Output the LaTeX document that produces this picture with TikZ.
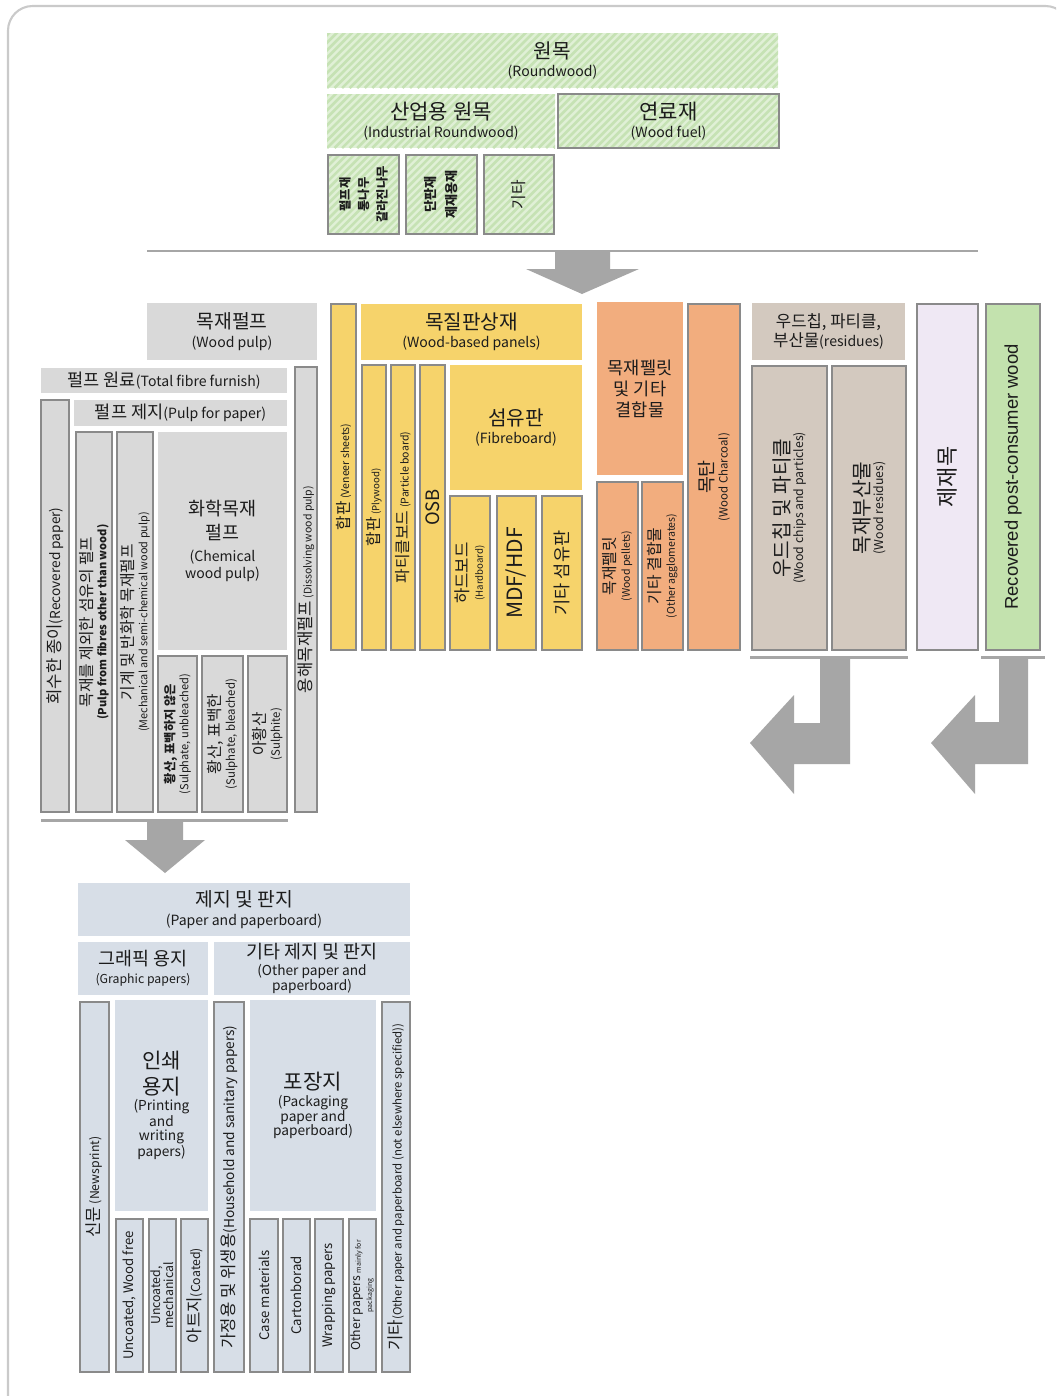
\documentclass[tikz,border=0pt]{standalone}
\usepackage{fontspec}
\setmainfont{Noto Sans CJK KR}
\newfontfamily\arialfont{Liberation Sans}
\usetikzlibrary{fit}
\definecolor{hatchBg}{HTML}{E0F0D6}
\definecolor{hatchLn}{HTML}{C6E2B4}
\definecolor{edgeGray}{HTML}{8A8A8A}
\definecolor{pulpGray}{HTML}{D9D9D9}
\definecolor{panelYel}{HTML}{F6D36B}
\definecolor{pelletOr}{HTML}{F2AD7E}
\definecolor{residTp}{HTML}{D3C9BF}
\definecolor{sawnLav}{HTML}{EFE8F4}
\definecolor{recovGr}{HTML}{C3E2AE}
\definecolor{paperBl}{HTML}{D7DEE7}
\definecolor{arrowGr}{HTML}{A6A6A6}
\definecolor{cardLn}{HTML}{CACACA}
\definecolor{inkTxt}{HTML}{1C1C1C}
\newcommand\fs[2]{\fontsize{#1}{#2}\selectfont}
\tikzset{
  cellbase/.style={inner sep=0pt,outer sep=0pt},
  edged/.style={draw=edgeGray,line width=0.6pt},
  hatch/.style={fill=hatchBg,path picture={
      \foreach \k in {-12,...,62}
        \draw[hatchLn,line width=1.5pt]
          ([xshift=\k*4.3pt]path picture bounding box.south west) -- ++(60pt,60pt);}},
  grn/.style={cellbase,hatch},
  grnb/.style={grn,edged},
  pulp/.style={cellbase,fill=pulpGray},
  pulpb/.style={pulp,edged},
  panel/.style={cellbase,fill=panelYel},
  panelb/.style={panel,edged},
  pellet/.style={cellbase,fill=pelletOr},
  pelletb/.style={pellet,edged},
  resid/.style={cellbase,fill=residTp},
  residb/.style={resid,edged},
  sawn/.style={cellbase,fill=sawnLav,edged},
  recov/.style={cellbase,fill=recovGr,edged},
  paper/.style={cellbase,fill=paperBl},
  paperb/.style={paper,edged},
  tlbl/.style={align=center,inner sep=0pt,text=inkTxt,font=\fs{8}{9.5}},
  vlbl/.style={tlbl,rotate=90,font=\fs{7}{8}},
  rule/.style={draw=arrowGr,line width=1.7pt},
  blockarr/.style={fill=arrowGr},
}
% box between two corners, text level
\newcommand\hcell[6][]{\node[#2,fit={(#4) (#5)}] (#3) {};
  \node[tlbl,#1] (#3-t) at (#3.center) {#6};}
% box between two corners, text turned upwards
\newcommand\vcell[6][]{\node[#2,fit={(#4) (#5)}] (#3) {};
  \node[vlbl,#1] (#3-t) at (#3.center) {#6};}

\begin{document}
\begin{tikzpicture}[x=0.02cm,y=-0.02cm]
  \useasboundingbox (0,0) rectangle (1056,1396);
  \begin{scope}
    \clip (0,0) rectangle (1056,1396);
    \draw[cardLn,line width=1.2pt,fill=white,rounded corners=14pt] (8,6) rectangle (1070,1420);
  \end{scope}

  % roundwood
  \hcell{grn}{rw}{327,33}{778,88}{{\fs{11.5}{14}원목}\\[1pt](Roundwood)}
  \hcell{grn}{ind}{327,94}{555,148}{{\fs{12}{14}산업용 원목}\\[1pt](Industrial Roundwood)}
  \hcell{grnb}{fuel}{558,94}{779,148}{{\fs{12}{14}연료재}\\[1pt](Wood fuel)}
  \vcell[font=\bfseries\fs{7}{10.5}]{grnb}{pw}{328,155}{399,234}{펄프재\\통나무\\갈라진나무}
  \vcell[font=\bfseries\fs{7.5}{12}]{grnb}{vl}{406,155}{477,234}{단판재\\제재용재}
  \vcell[font=\fs{9}{11}]{grnb}{oth}{484,155}{554,234}{기타}

  \draw[rule] (147,251) -- (978,251);
  \fill[blockarr] (555,252) -- (610,252) -- (610,269) -- (639,269) -- (582,294)
    -- (526,269) -- (555,269) -- cycle;

  % wood pulp
  \hcell{pulp}{wp}{147,303}{317,360}{{\fs{11}{13}목재펄프}\\[1pt](Wood pulp)}
  \hcell{pulp}{tff}{41,368}{287,393}{{\fs{10}{12}펄프 원료}(Total fibre furnish)}
  \hcell{pulp}{pfp}{74,400}{287,426}{{\fs{10}{12}펄프 제지}(Pulp for paper)}
  \vcell{pulpb}{rcp}{41,400}{69,812}{{\fs{9.5}{11}회수한 종이}{\fs{7.8}{9}(Recovered paper)}}
  \vcell{pulpb}{nonw}{76,432}{112,812}{{\fs{9}{10}목재를 제외한 섬유의 펄프}\\{\bfseries\fs{6.3}{7}(Pulp from fibres other than wood)}}
  \vcell{pulpb}{mech}{117,432}{153,812}{{\fs{9}{10}기계 및 반화학 목재펄프}\\{\fs{6.2}{7}(Mechanical and semi-chemical wood pulp)}}
  \hcell{pulp}{chem}{158,432}{287,650}{{\fs{10.5}{12}화학목재}\\[3pt]{\fs{10.5}{12}펄프}\\[3pt](Chemical\\wood pulp)}
  \vcell{pulpb}{sun}{158,656}{197,812}{{\bfseries\fs{7}{8}황산, 표백하지 않은}\\{\fs{6.3}{7}(Sulphate, unbleached)}}
  \vcell{pulpb}{sbl}{202,656}{243,812}{{\fs{9}{10}황산, 표백한}\\{\fs{6.5}{7.5}(Sulphate, bleached)}}
  \vcell{pulpb}{sul}{248,656}{287,812}{{\fs{9}{10}아황산}\\{\fs{6.5}{7.5}(Sulphite)}}
  \vcell{pulpb}{dis}{295,367}{317,812}{{\fs{9.5}{11}용해목재펄프} {\fs{6}{7}(Dissolving wood pulp)}}

  \draw[rule] (41,820) -- (288,820);
  \fill[blockarr] (147,821) -- (183,821) -- (183,840) -- (205,840) -- (165,873)
    -- (125,840) -- (147,840) -- cycle;

  % wood-based panels
  \vcell{panelb}{ven}{331,304}{356,650}{{\fs{9}{10}합판} {\fs{6}{7}(Veneer sheets)}}
  \hcell{panel}{wbp}{361,304}{582,360}{{\fs{11.5}{13}목질판상재}\\[1pt](Wood-based panels)}
  \vcell{panelb}{ply}{362,365}{386,650}{{\fs{9}{10}합판} {\fs{5.5}{6.5}(Plywood)}}
  \vcell{panelb}{pcb}{391,365}{415,650}{{\fs{9}{10}파티클보드} {\fs{6}{7}(Particle board)}}
  \vcell[font=\fs{10.5}{12}]{panelb}{osb}{420,365}{445,650}{OSB}
  \hcell{panel}{fib}{450,365}{582,490}{{\fs{11.5}{13}섬유판}\\[1pt](Fibreboard)}
  \vcell{panelb}{hdb}{450,496}{490,650}{{\fs{9.5}{11}하드보드}\\{\fs{5.5}{6.5}(Hardboard)}}
  \vcell[font=\fs{12}{14}]{panelb}{mdf}{497,496}{536,650}{MDF/HDF}
  \vcell[font=\fs{10}{12}]{panelb}{ofb}{542,496}{582,650}{기타 섬유판}

  % pellets and charcoal
  \hcell[font=\fs{10}{12}]{pellet}{agg}{597,302}{683,475}{목재펠릿\\및 기타\\결합물}
  \vcell{pelletb}{pel}{597,482}{638,650}{{\fs{9}{10}목재펠릿}\\{\fs{6}{7}(Wood pellets)}}
  \vcell{pelletb}{oag}{642,482}{683,650}{{\fs{9}{10}기타 결합물}\\{\fs{6}{7}(Other agglomerates)}}
  \vcell{pelletb}{chr}{688,304}{740,650}{{\fs{10.5}{12}목탄}\\{\fs{6.5}{7.5}(Wood Charcoal)}}

  % chips, residues, sawnwood, recovered wood
  \hcell{resid}{res}{752,303}{905,360}{{\fs{9.5}{11}우드칩, 파티클,}\\{\fs{9.5}{11}부산물}(residues)}
  \vcell{residb}{chp}{752,366}{827,650}{{\fs{11.5}{13}우드칩 및 파티클}\\{\fs{7}{8}(Wood chips and particles)}}
  \vcell{residb}{wrs}{832,366}{906,650}{{\fs{11.5}{13}목재부산물}\\{\fs{7}{8}(Wood residues)}}
  \vcell[font=\fs{12.5}{14}]{sawn}{swn}{917,304}{978,650}{제재목}
  \vcell[font=\arialfont\fs{10.5}{12}]{recov}{rpc}{986,304}{1040,650}{Recovered post-consumer wood}

  \draw[rule] (750,657) -- (908,657);
  \draw[rule] (981,657) -- (1045,657);
  \fill[blockarr] (820,658) -- (850,658) -- (850,764) -- (794,764) -- (794,794)
    -- (750,743) -- (794,695) -- (794,723) -- (820,723) -- cycle;
  \fill[blockarr] (999,658) -- (1028,658) -- (1028,764) -- (975,764) -- (975,794)
    -- (931,743) -- (975,695) -- (975,722) -- (999,722) -- cycle;

  % paper and paperboard
  \hcell{paper}{pap}{78,883}{410,936}{{\fs{11}{13}제지 및 판지}\\[1pt](Paper and paperboard)}
  \hcell{paper}{gra}{78,942}{208,995}{{\fs{10.5}{12}그래픽 용지}\\[1pt]{\fs{7}{8}(Graphic papers)}}
  \hcell[font=\fs{7.8}{8.5}]{paper}{opp}{214,942}{410,995}{{\fs{10.5}{12}기타 제지 및 판지}\\[1pt](Other paper and\\paperboard)}
  \vcell{paperb}{nws}{80,1002}{109,1372}{{\fs{9.5}{11}신문} {\fs{7}{8}(Newsprint)}}
  \hcell[font=\fs{7.8}{8}]{paper}{prt}{115,1000}{208,1211}{{\fs{12}{14}인쇄}\\[3pt]{\fs{12}{14}용지}\\[1pt](Printing\\and\\writing\\papers)}
  \vcell[font=\fs{7.5}{8.5}]{paperb}{uwf}{116,1219}{143,1372}{Uncoated, Wood free}
  \vcell[font=\fs{7}{7.5}]{paperb}{umc}{149,1219}{176,1372}{Uncoated,\\mechanical}
  \vcell{paperb}{cot}{181,1219}{208,1372}{{\fs{9.5}{10}아트지}{\fs{7}{8}(Coated)}}
  \vcell{paperb}{hhs}{214,1002}{244,1372}{{\fs{9.5}{10}가정용 및 위생용}{\fs{7.8}{8.5}(Household and sanitary papers)}}
  \hcell[font=\fs{7.8}{8.5}]{paper}{pkg}{250,1000}{376,1211}{{\fs{12}{14}포장지}\\[1pt](Packaging\\paper and\\paperboard)}
  \vcell[font=\fs{7.5}{8.5}]{paperb}{cse}{250,1219}{278,1372}{Case materials}
  \vcell[font=\fs{7.5}{8.5}]{paperb}{ctn}{283,1219}{310,1372}{Cartonborad}
  \vcell[font=\fs{7.5}{8.5}]{paperb}{wrp}{315,1219}{343,1372}{Wrapping papers}
  \vcell[font=\fs{7}{6.5}]{paperb}{opk}{349,1219}{376,1372}{Other papers {\fs{4}{5}mainly for}\\{\fs{4}{5}packaging}}
  \vcell{paperb}{onp}{382,1002}{410,1372}{{\fs{9.5}{10}기타}{\fs{6.5}{7.5}(Other paper and paperboard (not elsewhere specified))}}
\end{tikzpicture}
\end{document}
